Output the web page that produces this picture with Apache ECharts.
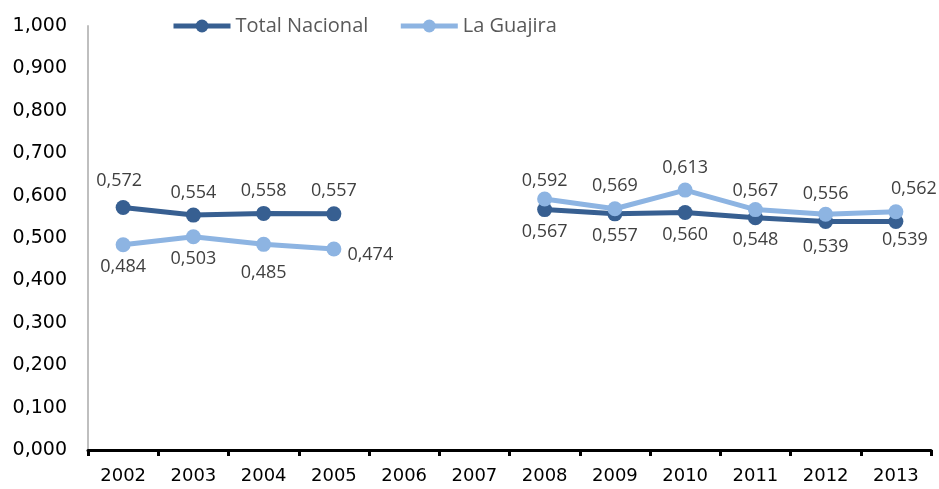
<!DOCTYPE html>
<html>
<head>
<meta charset="utf-8">
<script src="https://cdn.jsdelivr.net/npm/echarts@6/dist/echarts.min.js"></script>
<style>
  html, body { margin: 0; padding: 0; background: #fff; }
  #chart { width: 939px; height: 489px; }
</style>
</head>
<body>
<div id="chart"></div>
<script>
var years = ['2002', '2003', '2004', '2005', '2006', '2007', '2008', '2009', '2010', '2011', '2012', '2013'];
var totalNacional = [0.572, 0.554, 0.558, 0.557, null, null, 0.567, 0.557, 0.560, 0.548, 0.539, 0.539];
var laGuajira = [0.484, 0.503, 0.485, 0.474, null, null, 0.592, 0.569, 0.613, 0.567, 0.556, 0.562];

// label placement per point (style only)
var tnPos = [
  { position: 'top', distance: 10, offset: [-4, 0] },
  { position: 'top', distance: 6 }, { position: 'top', distance: 6 }, { position: 'top', distance: 6 },
  null, null,
  { position: 'bottom', distance: 6 }, { position: 'bottom', distance: 6 }, { position: 'bottom', distance: 6 },
  { position: 'bottom', distance: 6 }, { position: 'bottom', distance: 9 },
  { position: 'bottom', distance: 2, offset: [9, 0] }
];
var lgPos = [
  { position: 'bottom', distance: 6 }, { position: 'bottom', distance: 6 }, { position: 'bottom', distance: 12 },
  { position: 'right', distance: 6, offset: [0, 6] },
  null, null,
  { position: 'top', distance: 2 }, { position: 'top', distance: 6 }, { position: 'top', distance: 6 },
  { position: 'top', distance: 2 }, { position: 'top', distance: 4 },
  { position: 'top', distance: 6, offset: [18, 0] }
];

function fmt(v) { return v.toFixed(3).replace('.', ','); }

function buildData(values, pos) {
  return values.map(function (v, i) {
    if (v === null) return null;
    var p = pos[i] || {};
    return { value: v, label: { position: p.position, distance: p.distance, offset: p.offset || [0, 0] } };
  });
}

var labelStyle = {
  show: true,
  color: '#404040',
  fontSize: 18,
  fontFamily: 'Open Sans',
  formatter: function (p) { return fmt(p.value); }
};

var chart = echarts.init(document.getElementById('chart'));
chart.setOption({
  animation: false,
  grid: { left: 88, right: 8, top: 26, bottom: 39 },
  legend: {
    top: 11,
    left: 166,
    itemWidth: 57,
    itemHeight: 16,
    itemGap: 30,
    lineStyle: { width: 5 },
    textStyle: { color: '#595959', fontSize: 20, fontFamily: 'Open Sans' },
    data: ['Total Nacional', 'La Guajira']
  },
  xAxis: {
    type: 'category',
    data: years,
    boundaryGap: true,
    axisLine: { lineStyle: { color: '#000', width: 3 } },
    axisTick: { show: true, length: 6, lineStyle: { color: '#000', width: 3 } },
    axisLabel: { color: '#000', fontSize: 18, margin: 17, fontFamily: 'DejaVu Sans' },
    splitLine: { show: false }
  },
  yAxis: {
    type: 'value',
    min: 0,
    max: 1,
    interval: 0.1,
    axisLine: { show: true, lineStyle: { color: '#bfbfbf', width: 2 } },
    axisTick: { show: false },
    splitLine: { show: false },
    axisLabel: {
      color: '#000',
      fontSize: 19,
      margin: 21,
      fontFamily: 'DejaVu Sans',
      formatter: function (v) { return fmt(v); }
    }
  },
  series: [
    {
      name: 'Total Nacional',
      type: 'line',
      data: buildData(totalNacional, tnPos),
      connectNulls: false,
      symbol: 'circle',
      symbolSize: 15,
      lineStyle: { color: '#375f91', width: 5 },
      itemStyle: { color: '#375f91' },
      label: labelStyle,
      z: 2
    },
    {
      name: 'La Guajira',
      type: 'line',
      data: buildData(laGuajira, lgPos),
      connectNulls: false,
      symbol: 'circle',
      symbolSize: 15,
      lineStyle: { color: '#8db4e2', width: 5 },
      itemStyle: { color: '#8db4e2' },
      label: labelStyle,
      z: 3
    }
  ]
});
</script>
</body>
</html>
